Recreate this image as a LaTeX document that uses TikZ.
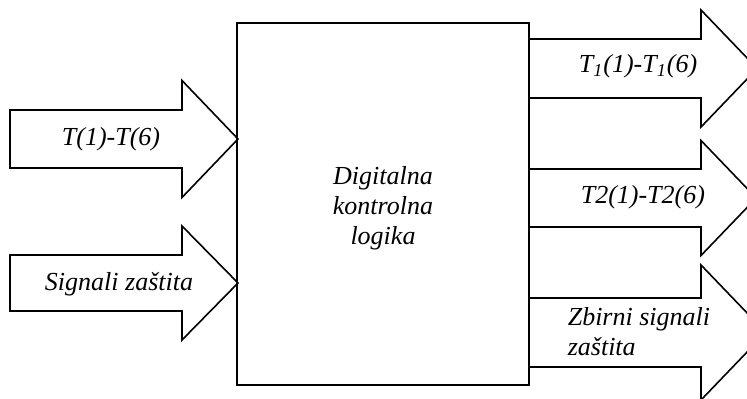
\documentclass[tikz,border=0pt]{standalone}
\usepackage{fontspec}
\setmainfont{Liberation Serif}
\usetikzlibrary{positioning}

\begin{document}
\begin{tikzpicture}[x=0.5pt, y=-0.5pt, line width=0.8pt, line join=miter,
    lbl/.style={font=\fontsize{13}{15}\selectfont\itshape, inner sep=0pt}]
    \clip (0,0) rectangle (747,399);
    % ulazne strelice
    \foreach \yc/\sh/\hh in {139/29/58.5, 283/28/57}
    \draw (10,\yc-\sh) -- (182,\yc-\sh) -- (182,\yc-\hh) -- (238,\yc) -- (182,\yc+\hh) -- (182,\yc+\sh) -- (10,\yc+\sh) -- cycle;
    % izlazne strelice
    \foreach \yc/\sh/\hh in {68.5/29.5/58.5, 198/29/57.5, 332.5/34.5/67.5}
    \draw (529,\yc-\sh) -- (701,\yc-\sh) -- (701,\yc-\hh) -- (701+0.96*\hh,\yc) -- (701,\yc+\hh) -- (701,\yc+\sh) -- (529,\yc+\sh) -- cycle;
    \node[draw, minimum width=146pt, minimum height=181pt] (logika) at (383,204) {};
    \node[lbl, align=center, below=2pt of logika.center, anchor=center] (logikatekst) {Digitalna\\kontrolna\\logika};
    \node[lbl, anchor=base] (ulazT) at (111,146) {T(1)-T(6)};
    \node[lbl, anchor=base] (ulazS) at (119,291) {Signali zaštita};
    \node[lbl, anchor=base west] (izlazA) at (578,73) {T\textsubscript{1}(1)-T\textsubscript{1}(6)};
    \node[lbl, anchor=base west] (izlazB) at (580,204) {T2(1)-T2(6)};
    \node[lbl, anchor=west, align=left] (izlazC) at (567,332) {Zbirni signali\\zaštita};
    \end{tikzpicture}
\end{document}
